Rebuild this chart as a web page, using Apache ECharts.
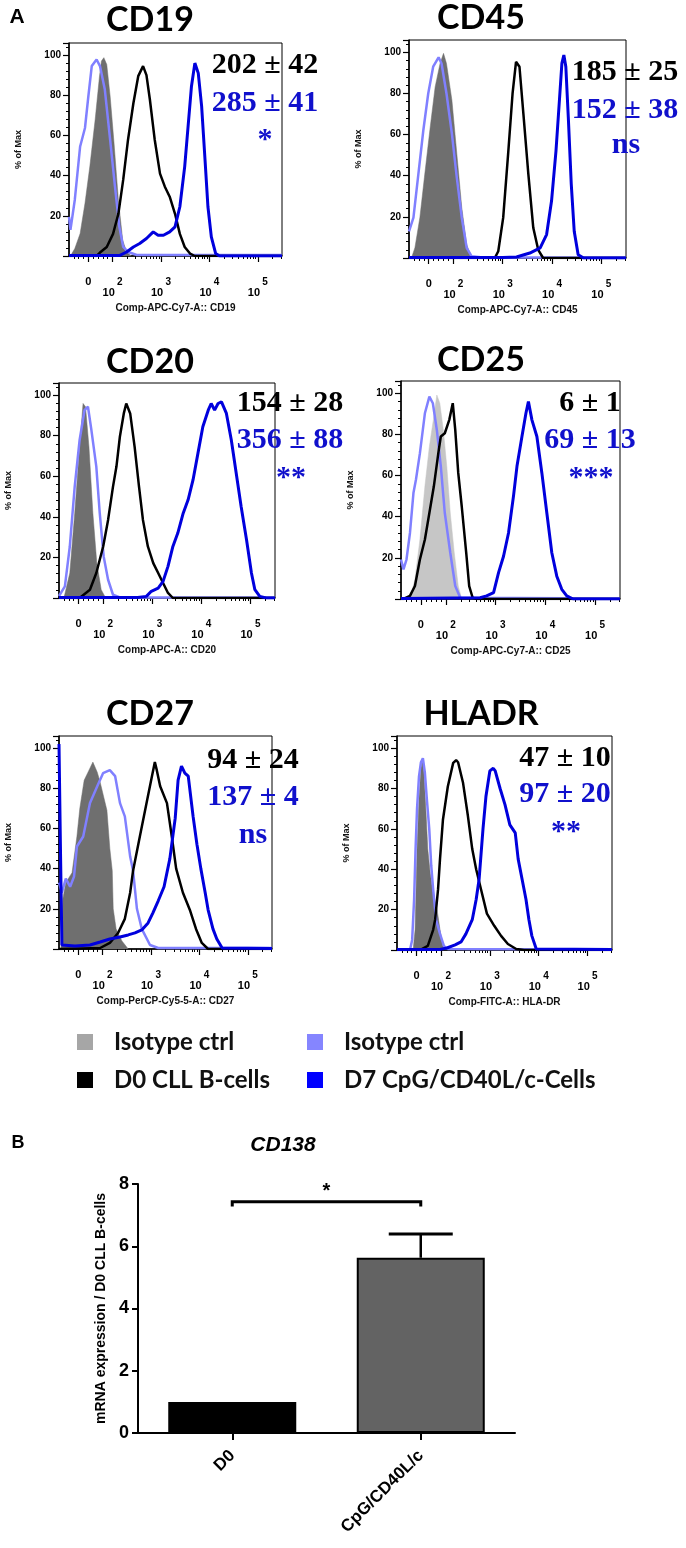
<!DOCTYPE html>
<html>
<head>
<meta charset="utf-8">
<script src="https://cdn.jsdelivr.net/npm/echarts@6/dist/echarts.min.js"></script>
<style>
  html, body { margin: 0; padding: 0; background: #fff; }
  #chart { width: 686px; height: 1548px; }
</style>
</head>
<body>
<div id="chart"></div>
<script>
// x values are in decades of the biexponential axis (2 = 10^2, 3 = 10^3 ...), y is % of max
const cd19IsoD0 = [[1.13,0],[1.22,3.7],[1.33,11.2],[1.43,26.2],[1.53,44.5],[1.64,67.8],[1.73,89.5],[1.77,97],[1.82,98.7],[1.88,95.3],[1.95,79.5],[2.03,56.2],[2.12,27.8],[2.21,7.8],[2.29,2],[2.39,0]];
const cd19IsoD7 = [[1.1,19.5],[1.13,13],[1.22,28],[1.33,54.5],[1.43,63.7],[1.5,79.5],[1.57,94.5],[1.67,97.8],[1.74,94.5],[1.84,82.8],[1.95,57.8],[2.05,34.5],[2.14,14.5],[2.22,4.5],[2.32,2],[2.5,0.5],[5.5,0.5]];
const cd19D0 = [[1.1,0],[1.67,0],[1.74,1.7],[1.88,4.5],[2.01,11],[2.12,21],[2.22,38],[2.32,58],[2.43,76],[2.53,89.5],[2.63,94.5],[2.7,90],[2.77,78],[2.87,58],[2.98,41],[3.08,34.5],[3.18,29.5],[3.29,21],[3.39,11],[3.49,4.5],[3.6,1.2],[3.7,0],[5.5,0]];
const cd19D7 = [[1.1,0.3],[2.15,0.3],[2.29,2],[2.43,4.5],[2.56,6.2],[2.7,8.7],[2.84,12],[2.94,10.3],[3.05,10.3],[3.18,12],[3.29,14.5],[3.39,24.5],[3.49,44.5],[3.56,64.5],[3.63,84.5],[3.7,96],[3.77,91],[3.84,74.5],[3.91,47.8],[3.97,24.5],[4.04,9.5],[4.13,1.2],[4.21,0],[5.5,0]];

const cd45IsoD0 = [[1.15,0],[1.22,5],[1.32,19.6],[1.42,40.8],[1.53,63.6],[1.63,83.2],[1.73,94.6],[1.8,99.5],[1.86,94.6],[1.97,76.7],[2.07,50.6],[2.17,24.5],[2.27,6.5],[2.37,0]];
const cd45IsoD7 = [[1.1,13],[1.19,19.6],[1.29,40.8],[1.39,62],[1.49,80],[1.59,93],[1.7,97.6],[1.76,94.6],[1.86,80],[1.97,60.4],[2.07,39],[2.17,19.6],[2.27,4.9],[2.37,0.8],[2.6,0.3],[5.5,0.3]];
const cd45D0 = [[1.1,0],[2.84,0],[2.91,3.3],[3.01,19.6],[3.11,50.6],[3.2,80],[3.27,95.4],[3.34,93],[3.42,70],[3.52,40.8],[3.62,14.7],[3.72,4],[3.82,0],[5.5,0]];
const cd45D7 = [[1.1,0.3],[3.0,0.3],[3.28,0.5],[3.55,2.4],[3.76,4.9],[3.89,11.4],[3.99,27.7],[4.08,52],[4.15,76.7],[4.2,94.6],[4.24,98.7],[4.28,93],[4.33,68.5],[4.39,35.9],[4.45,13],[4.53,1.6],[4.64,0],[5.5,0]];

const cd20IsoD0 = [[1.2,0],[1.32,12.3],[1.42,41.8],[1.52,74.6],[1.59,95.9],[1.64,94.3],[1.71,74.6],[1.79,41.8],[1.87,17.2],[1.96,4.1],[2.05,0]];
const cd20IsoD7 = [[1.1,1],[1.22,5.7],[1.32,25.4],[1.42,54.9],[1.52,77.9],[1.62,92.6],[1.69,94.3],[1.76,82.8],[1.86,64.8],[1.93,41.8],[2.01,20.5],[2.1,9],[2.2,1.6],[2.34,0.3],[5.5,0.3]];
const cd20D0 = [[1.1,0],[1.52,0],[1.73,4.1],[1.86,12.3],[2.0,25.4],[2.1,38.5],[2.2,54.9],[2.27,64.8],[2.34,79.5],[2.42,91],[2.47,95.9],[2.55,91],[2.64,74.6],[2.73,54.9],[2.81,38.5],[2.91,25.4],[3.02,17.2],[3.12,12.3],[3.22,7.4],[3.32,2.5],[3.42,0],[5.5,0]];
const cd20D7 = [[1.1,0.3],[2.7,0.3],[2.88,0.8],[2.98,3.3],[3.12,4.9],[3.22,8.2],[3.32,15.6],[3.42,25.4],[3.52,32],[3.63,41.8],[3.73,48.4],[3.83,58.2],[3.93,71.3],[4.03,84.4],[4.14,92.6],[4.2,95.9],[4.27,92.6],[4.34,95.9],[4.41,96.7],[4.51,91],[4.61,77.9],[4.71,61.5],[4.81,45.1],[4.92,28.7],[5.02,12.3],[5.09,4.1],[5.19,0.8],[5.32,0],[5.5,0]];

const cd25IsoD0 = [[1.28,0],[1.38,9.5],[1.48,28.9],[1.58,54.8],[1.67,74.2],[1.75,87.1],[1.82,99.2],[1.88,95.2],[1.95,82.2],[2.02,64.5],[2.09,41.8],[2.17,22.5],[2.25,6.3],[2.32,0]];
const cd25IsoD7 = [[1.1,19.2],[1.15,14.4],[1.21,19.2],[1.28,32.1],[1.35,51.5],[1.4,58],[1.48,70.9],[1.58,90.3],[1.67,98.4],[1.74,95.2],[1.82,82.2],[1.9,64.5],[1.98,41.8],[2.09,22.5],[2.19,6.3],[2.29,0.6],[5.5,0.3]];
const cd25D0 = [[1.1,0],[1.15,0],[1.28,1.5],[1.38,6.3],[1.48,19.2],[1.58,28.9],[1.67,41.8],[1.76,54.8],[1.85,70.9],[1.9,79],[1.98,80.6],[2.07,87.1],[2.14,95.2],[2.19,82.2],[2.25,61.3],[2.32,45.1],[2.41,22.5],[2.47,6.3],[2.54,0.6],[2.62,0],[5.5,0]];
const cd25D7 = [[1.1,0.3],[2.69,0.6],[2.82,1.5],[2.96,3.1],[3.06,12.8],[3.16,20.8],[3.26,32.1],[3.36,50],[3.43,64.5],[3.53,79],[3.61,90.3],[3.66,96],[3.73,87.1],[3.83,79],[3.93,61.3],[4.03,41.8],[4.13,22.5],[4.23,11.1],[4.33,4.7],[4.43,1.5],[4.56,0],[5.5,0]];

const cd27IsoD0 = [[1.14,0],[1.18,25],[1.24,33],[1.37,38],[1.47,56],[1.53,70],[1.62,84],[1.7,88],[1.8,93],[1.89,88],[1.95,83],[2.03,75],[2.09,69],[2.15,50],[2.2,39],[2.22,20],[2.28,10],[2.4,4],[2.53,0]];
const cd27IsoD7 = [[1.1,33],[1.16,28],[1.24,35],[1.33,31],[1.41,36],[1.47,51],[1.6,56],[1.74,72.6],[1.89,81],[2.01,87.5],[2.15,89],[2.26,86],[2.36,72.6],[2.46,66],[2.57,46],[2.63,39],[2.71,20],[2.81,10],[2.98,2],[3.15,0.5],[5.5,0.5]];
const cd27D0 = [[1.1,0],[1.6,0.3],[1.95,0.5],[2.15,3],[2.32,8],[2.46,15],[2.57,28],[2.63,39],[2.77,56],[2.92,74],[3.02,86],[3.08,93],[3.12,89],[3.19,81],[3.33,72.6],[3.43,56],[3.52,40],[3.66,28],[3.81,19],[3.93,10],[4.05,3],[4.18,0],[5.5,0]];
const cd27D7 = [[1.1,102],[1.13,50],[1.16,2],[1.43,1.5],[1.74,2],[1.95,3.5],[2.15,5],[2.36,6],[2.53,7],[2.67,8],[2.81,9.5],[2.94,13],[3.04,18],[3.15,24],[3.27,31],[3.39,45],[3.5,65],[3.56,84],[3.63,91],[3.7,87.5],[3.77,86],[3.87,66],[3.95,52],[4.03,40],[4.12,28],[4.18,19.5],[4.28,10],[4.36,5],[4.47,0.5],[5.5,0.3]];

const hlaIsoD0 = [[1.43,0],[1.47,10],[1.49,30],[1.51,50],[1.55,75],[1.59,90],[1.62,95],[1.65,88],[1.69,70],[1.73,50],[1.78,38],[1.84,28],[1.92,20],[1.98,10],[2.04,2],[2.1,0]];
const hlaIsoD7 = [[1.1,0.3],[1.37,0.5],[1.41,5],[1.45,25],[1.48,50],[1.51,70],[1.55,86],[1.59,93],[1.63,95],[1.67,88],[1.71,75],[1.76,60],[1.8,42],[1.84,30],[1.9,15],[1.98,8],[2.06,2],[2.14,0.5],[5.5,0.3]];
const hlaD0 = [[1.1,0],[1.57,0],[1.73,2],[1.84,10],[1.88,15],[1.94,30],[1.98,45],[2.04,64.5],[2.14,81],[2.25,92.7],[2.31,94],[2.35,93],[2.45,83],[2.55,66.6],[2.64,50],[2.72,40],[2.82,30],[2.94,18],[3.09,12],[3.23,7],[3.37,3],[3.54,0.5],[3.7,0],[5.5,0]];
const hlaD7 = [[1.1,0.3],[1.98,0.3],[2.12,1],[2.29,2.5],[2.41,4],[2.51,8],[2.64,15],[2.72,25],[2.78,35],[2.86,60],[2.92,76],[3.0,88.7],[3.07,90],[3.11,88.7],[3.21,80],[3.31,72],[3.41,62],[3.52,58],[3.58,45],[3.66,35],[3.74,25],[3.8,15],[3.86,7],[3.95,0.5],[5.5,0.3]];

const panelTitles = ['CD19', 'CD45', 'CD20', 'CD25', 'CD27', 'HLADR'];
const panelAxisNames = ['Comp-APC-Cy7-A:: CD19', 'Comp-APC-Cy7-A:: CD45', 'Comp-APC-A:: CD20',
  'Comp-APC-Cy7-A:: CD25', 'Comp-PerCP-Cy5-5-A:: CD27', 'Comp-FITC-A:: HLA-DR'];
const panelSeries = [
  [cd19IsoD0, cd19IsoD7, cd19D0, cd19D7],
  [cd45IsoD0, cd45IsoD7, cd45D0, cd45D7],
  [cd20IsoD0, cd20IsoD7, cd20D0, cd20D7],
  [cd25IsoD0, cd25IsoD7, cd25D0, cd25D7],
  [cd27IsoD0, cd27IsoD7, cd27D0, cd27D7],
  [hlaIsoD0, hlaIsoD7, hlaD0, hlaD7]
];
const d0Stats = ['202 ± 42', '185 ± 25', '154 ± 28', '6 ± 1', '94 ± 24', '47 ± 10'];
const d7Stats = ['285 ± 41', '152 ± 38', '356 ± 88', '69 ± 13', '137 ± 4', '97 ± 20'];
const sigMarks = ['*', 'ns', '**', '***', 'ns', '**'];
const xTickValues = [1.5, 2, 3, 4, 5];
const xTickLabels = ['0', '10^2', '10^3', '10^4', '10^5'];
const yTickLabels = [20, 40, 60, 80, 100];
const seriesNames = ['Isotype ctrl', 'Isotype ctrl ', 'D0 CLL B-cells', 'D7 CpG/CD40L/c-Cells'];

const barCats = ['D0', 'CpG/CD40L/c'];
const barVals = [1.0, 5.63];
const barErr = [0, 0.76];
const sigPairs = [[0, 1, 7.43, 7.28]];
const sigLabels = ['*'];

// layout
const boxes = [[69, 43, 213, 213], [409, 40, 217, 218], [59, 383, 216, 215],
  [401, 381, 219, 218], [59, 736, 213, 213], [397, 736, 215, 214]];
const titleXY = [[150, 20], [481, 18], [150, 362], [481, 360], [150, 714], [481, 714]];
const statXY = [[265, 65, 103, 265, 140], [625, 72, 110, 626, 145], [290, 403, 440, 291, 478],
  [590, 403, 440, 591, 478], [253, 760, 797, 253, 835], [565, 758, 794, 566, 832]];
const isoFill = ['#6f6f6f', '#6f6f6f', '#6f6f6f', '#c6c6c6', '#6f6f6f', '#6f6f6f'];
const lineColors = [null, '#8080ff', '#000000', '#0000dd'];
const lineWidths = [0.5, 2.5, 2.5, 3];
const blueText = '#1010cc';
const SANS = 'Liberation Sans, Arial, sans-serif';
const STAT_FONT = 'bold 30px "Liberation Serif"';

const minorTicks = [1.2, 1.3, 1.4, 1.6, 1.7, 1.8, 1.9];
[2, 3, 4, 5].forEach(d => {
  for (let k = 2; k <= 9; k++) {
    if (d + Math.log10(k) < 5.5) minorTicks.push(d + Math.log10(k));
  }
});

function xLabel(v) {
  let idx = xTickValues.findIndex(t => Math.abs(t - v) < 1e-6);
  let t = idx < 0 ? '' : xTickLabels[idx];
  if (t.indexOf('^') < 0) return '{z|' + t + '}\n{b| }';
  let parts = t.split('^');
  return '{e|' + parts[1] + '}\n{b|' + parts[0] + '}';
}

const grids = [], xAxes = [], yAxes = [], series = [], texts = [];

panelTitles.forEach((title, i) => {
  let b = boxes[i];
  grids.push({ left: b[0], top: b[1], width: b[2], height: b[3], show: true,
    borderColor: '#000', borderWidth: 1, backgroundColor: '#fff' });
  xAxes.push({
    gridIndex: i, type: 'value', min: 1.1, max: 5.5, position: 'bottom',
    name: panelAxisNames[i], nameLocation: 'middle', nameGap: 47,
    nameTextStyle: { fontFamily: SANS, fontSize: 10, fontWeight: 'bold', color: '#111' },
    axisLine: { show: true, lineStyle: { color: '#000', width: 1.5 } },
    axisTick: { show: true, customValues: xTickValues, length: 6, lineStyle: { color: '#000', width: 1.2 } },
    axisLabel: {
      customValues: xTickValues, formatter: xLabel, margin: 21, color: '#000',
      rich: {
        e: { fontFamily: SANS, fontSize: 10, fontWeight: 'bold', lineHeight: 10, width: 20, align: 'right' },
        b: { fontFamily: SANS, fontSize: 11, fontWeight: 'bold', lineHeight: 12, width: 20, align: 'left' },
        z: { fontFamily: SANS, fontSize: 11, fontWeight: 'bold', lineHeight: 10, width: 20, align: 'center' }
      }
    },
    splitLine: { show: false }
  });
  xAxes.push({
    gridIndex: i, type: 'value', min: 1.1, max: 5.5, position: 'bottom', offset: 0,
    axisLine: { show: false },
    axisTick: { show: true, customValues: minorTicks, length: 3, lineStyle: { color: '#000', width: 1 } },
    axisLabel: { show: false }, splitLine: { show: false }
  });
  yAxes.push({
    gridIndex: i, type: 'value', min: 0, max: 106, interval: 20,
    name: '% of Max', nameLocation: 'middle', nameGap: 46, nameRotate: 90,
    nameTextStyle: { fontFamily: SANS, fontSize: 9, fontWeight: 'bold', color: '#111' },
    axisLine: { show: true, lineStyle: { color: '#000', width: 1.5 } },
    axisTick: { show: true, length: 6, lineStyle: { color: '#000', width: 1.2 } },
    minorTick: { show: true, splitNumber: 5, length: 3, lineStyle: { color: '#000' } },
    axisLabel: {
      formatter: v => (yTickLabels.indexOf(v) >= 0 ? String(v) : ''),
      fontFamily: SANS, fontSize: 10, fontWeight: 'bold', color: '#000', margin: 8
    },
    splitLine: { show: false }, minorSplitLine: { show: false }
  });
  panelSeries[i].forEach((data, k) => {
    let s = {
      type: 'line', name: seriesNames[k], xAxisIndex: 2 * i, yAxisIndex: i,
      data: data, symbol: 'none', smooth: false, z: 2 + k
    };
    if (k === 0) {
      s.lineStyle = { color: isoFill[i], width: lineWidths[0] };
      s.itemStyle = { color: isoFill[i] };
      s.areaStyle = { color: isoFill[i], opacity: 1 };
    } else {
      s.lineStyle = { color: lineColors[k], width: lineWidths[k] };
      s.itemStyle = { color: lineColors[k] };
    }
    series.push(s);
  });

  texts.push({ type: 'text', x: titleXY[i][0], y: titleXY[i][1],
    style: { text: title, font: 'bold 34px Lato', fill: '#000', align: 'center', verticalAlign: 'middle' } });
  let p = statXY[i];
  texts.push({ type: 'text', x: p[0], y: p[1],
    style: { text: d0Stats[i], font: STAT_FONT, fill: '#000', align: 'center', verticalAlign: 'middle' } });
  texts.push({ type: 'text', x: p[0], y: p[2],
    style: { text: d7Stats[i], font: STAT_FONT, fill: blueText, align: 'center', verticalAlign: 'middle' } });
  texts.push({ type: 'text', x: p[3], y: p[4],
    style: { text: sigMarks[i], font: STAT_FONT, fill: blueText, align: 'center', verticalAlign: 'middle' } });
});

// panel B: bar chart
grids.push({ left: 138, top: 1184, width: 377, height: 249 });
xAxes.push({
  gridIndex: 6, type: 'category', data: barCats,
  axisLine: { show: true, lineStyle: { color: '#000', width: 2 } },
  axisTick: { show: true, alignWithLabel: true, length: 7, lineStyle: { color: '#000', width: 2 } },
  axisLabel: { rotate: 45, fontFamily: SANS, fontSize: 17, fontWeight: 'bold', color: '#000', margin: 20 }
});
yAxes.push({
  gridIndex: 6, type: 'value', min: 0, max: 8, interval: 2,
  name: 'mRNA expression / D0 CLL B-cells', nameLocation: 'middle', nameGap: 26, nameRotate: 90,
  nameTextStyle: { fontFamily: SANS, fontSize: 14, fontWeight: 'bold', color: '#000' },
  axisLine: { show: true, lineStyle: { color: '#000', width: 2 } },
  axisTick: { show: true, length: 6, lineStyle: { color: '#000', width: 2 } },
  axisLabel: { fontFamily: SANS, fontSize: 18, fontWeight: 'bold', color: '#000', margin: 9 },
  splitLine: { show: false }
});
const barColors = ['#000000', '#636363'];
series.push({
  type: 'bar', name: 'CD138', xAxisIndex: 12, yAxisIndex: 6, barWidth: 128,
  data: barVals.map((v, i) => ({ value: v, itemStyle: { color: barColors[i] } })),
  itemStyle: { borderColor: '#000', borderWidth: 2 }
});
series.push({
  type: 'custom', name: 'sem', xAxisIndex: 12, yAxisIndex: 6, z: 5,
  data: barVals.map((v, i) => [i, v, v + barErr[i]]),
  encode: { x: 0, y: [1, 2] },
  renderItem: (params, api) => {
    let base = api.coord([api.value(0), api.value(1)]);
    let top = api.coord([api.value(0), api.value(2)]);
    if (base[1] - top[1] < 1) return null;
    return { type: 'group', children: [
      { type: 'line', shape: { x1: base[0], y1: base[1], x2: top[0], y2: top[1] }, style: { stroke: '#000', lineWidth: 2.5 } },
      { type: 'line', shape: { x1: top[0] - 32, y1: top[1], x2: top[0] + 32, y2: top[1] }, style: { stroke: '#000', lineWidth: 3 } }
    ] };
  }
});
series.push({
  type: 'custom', name: 'sig', xAxisIndex: 12, yAxisIndex: 6, z: 5,
  data: sigPairs,
  encode: { x: [0, 1], y: [2, 3] },
  renderItem: (params, api) => {
    let a = api.coord([api.value(0), api.value(2)]);
    let b = api.coord([api.value(1), api.value(2)]);
    let low = api.coord([api.value(0), api.value(3)])[1];
    return { type: 'group', children: [
      { type: 'polyline', shape: { points: [[a[0], low], [a[0], a[1]], [b[0], a[1]], [b[0], low]] },
        style: { stroke: '#000', lineWidth: 3, fill: null } },
      { type: 'text', x: (a[0] + b[0]) / 2, y: a[1] - 10,
        style: { text: sigLabels[params.dataIndex], font: 'bold 20px "Liberation Sans"', fill: '#000', align: 'center', verticalAlign: 'middle' } }
    ] };
  }
});

texts.push({ type: 'text', x: 17, y: 17, style: { text: 'A', font: 'bold 21px "Liberation Sans"', fill: '#000', align: 'center', verticalAlign: 'middle' } });
texts.push({ type: 'text', x: 18, y: 1143, style: { text: 'B', font: 'bold 18px "Liberation Sans"', fill: '#000', align: 'center', verticalAlign: 'middle' } });
texts.push({ type: 'text', x: 283, y: 1145, style: { text: 'CD138', font: 'italic bold 21px "Liberation Sans"', fill: '#000', align: 'center', verticalAlign: 'middle' } });

const legendText = { fontFamily: 'Lato', fontSize: 24, fontWeight: 'bold', color: '#111', lineHeight: 28, padding: [0, 0, 0, 16] };

const chart = echarts.init(document.getElementById('chart'), null, { renderer: 'canvas' });
chart.setOption({
  animation: false,
  backgroundColor: '#fff',
  legend: [
    { left: 77, top: 1028, padding: 0, orient: 'vertical', icon: 'rect', itemWidth: 16, itemHeight: 16, itemGap: 10,
      textStyle: legendText, selectedMode: false,
      data: [{ name: seriesNames[0], itemStyle: { color: '#a6a6a6', borderWidth: 0 } },
             { name: seriesNames[2], itemStyle: { color: '#000000', borderWidth: 0 } }] },
    { left: 307, top: 1028, padding: 0, orient: 'vertical', icon: 'rect', itemWidth: 16, itemHeight: 16, itemGap: 10,
      textStyle: legendText, selectedMode: false,
      data: [{ name: seriesNames[1], itemStyle: { color: '#8585ff', borderWidth: 0 } },
             { name: seriesNames[3], itemStyle: { color: '#0000ff', borderWidth: 0 } }] }
  ],
  grid: grids,
  xAxis: xAxes,
  yAxis: yAxes,
  series: series,
  graphic: { elements: texts }
});
</script>
</body>
</html>
